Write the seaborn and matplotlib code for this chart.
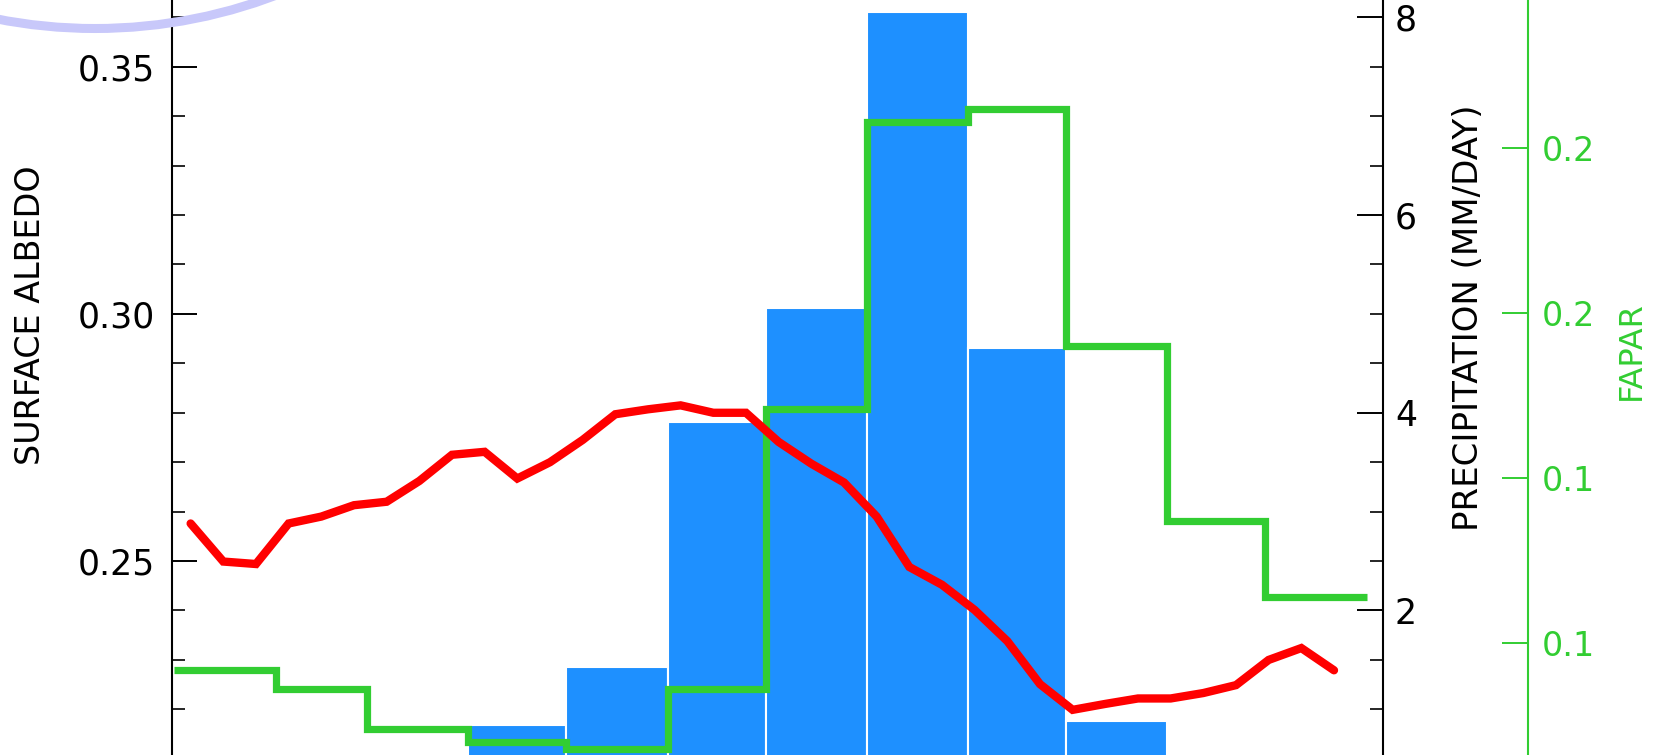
import numpy as np
import matplotlib
matplotlib.use("Agg")
import matplotlib.pyplot as plt
import seaborn as sns
from matplotlib.patches import Ellipse
from matplotlib.ticker import MultipleLocator, FixedLocator, FormatStrFormatter

# Month boundaries (day of year)
month_edges = [0, 31, 59, 90, 120, 151, 181, 212, 243, 273, 304, 334, 365]
# Monthly precipitation (mm/day)
precip_mm_day = [0.0, 0.0, 0.0, 0.84, 1.43, 3.91, 5.06, 8.05, 4.66, 0.88, 0.0, 0.0]
# Monthly FAPAR
fapar = [0.092, 0.086, 0.074, 0.070, 0.068, 0.086, 0.171, 0.258, 0.262, 0.190, 0.137, 0.114]
# Dekadal surface albedo
dekad_day = [5, 15, 25, 35, 45, 55, 65, 75, 85, 95, 105, 115, 125, 135, 145, 155, 165, 175,
             185, 195, 205, 215, 225, 235, 245, 255, 265, 275, 285, 295, 305, 315, 325, 335,
             345, 355]
albedo = [0.2576, 0.2499, 0.2494, 0.2576, 0.2590, 0.2613, 0.2620, 0.2662, 0.2715, 0.2721,
          0.2667, 0.2700, 0.2745, 0.2797, 0.2807, 0.2815, 0.2800, 0.2800, 0.2741, 0.2697,
          0.2659, 0.2590, 0.2488, 0.2452, 0.2401, 0.2338, 0.2251, 0.2199, 0.2211, 0.2222,
          0.2222, 0.2233, 0.2249, 0.2300, 0.2324, 0.2279]

BLUE = "#1E90FF"
GREEN = "#32CD32"
RED = "#FF0000"

sns.set_style("white")
plt.rcParams["font.family"] = ["DejaVu Sans"]

fig = plt.figure(figsize=(16.64, 7.55), dpi=100)
fig.patch.set_facecolor("white")

# precipitation axes (host), FAPAR axes, albedo axes on top
ax_p = fig.add_axes([0.10337, -0.07046, 0.72776, 1.17841])
ax_f = ax_p.twinx()
ax_a = ax_p.twinx()

month_mid = (np.array(month_edges[:-1]) + np.array(month_edges[1:])) / 2.0
sns.histplot(x=month_mid, weights=precip_mm_day, bins=month_edges, ax=ax_p,
             color=BLUE, edgecolor="white", linewidth=1.5, alpha=1, stat="count")

sns.lineplot(x=month_edges, y=fapar + [fapar[-1]], ax=ax_f, color=GREEN,
             linewidth=5.2, drawstyle="steps-post", estimator=None,
             solid_joinstyle="miter", solid_capstyle="butt")

sns.lineplot(x=dekad_day, y=albedo, ax=ax_a, color=RED, linewidth=6,
             estimator=None, solid_joinstyle="miter")

for ax in (ax_p, ax_f, ax_a):
    ax.set_xlim(-0.7, 370)
    ax.set_xlabel("")
    ax.set_ylabel("")
    ax.tick_params(axis="x", which="both", bottom=False, top=False,
                   labelbottom=False, labeltop=False)
    for side in ("top", "bottom", "left", "right"):
        ax.spines[side].set_visible(False)

# precipitation axis (right)
ax_p.set_ylim(0, 9)
ax_p.yaxis.set_ticks_position("right")
ax_p.yaxis.set_major_locator(FixedLocator([2, 4, 6, 8]))
ax_p.yaxis.set_major_formatter(FormatStrFormatter("%d"))
ax_p.yaxis.set_minor_locator(MultipleLocator(0.5))
ax_p.spines["right"].set_visible(True)
ax_p.spines["right"].set_linewidth(1.5)
ax_p.spines["right"].set_color("black")
ax_p.tick_params(axis="y", which="major", direction="in", length=18.7, width=1.4,
                 pad=8.6, labelsize=25, colors="black")
ax_p.tick_params(axis="y", which="minor", direction="in", length=9.4, width=1.4)

# FAPAR axis (outer right)
ax_f.set_ylim(0.05, 0.3196)
ax_f.yaxis.set_ticks_position("right")
ax_f.yaxis.set_major_locator(FixedLocator([0.10, 0.15, 0.20, 0.25]))
ax_f.yaxis.set_major_formatter(FormatStrFormatter("%.1f"))
ax_f.yaxis.set_minor_locator(FixedLocator([]))
ax_f.spines["right"].set_visible(True)
ax_f.spines["right"].set_position(("axes", 1.12))
ax_f.spines["right"].set_color(GREEN)
ax_f.spines["right"].set_linewidth(1.5)
ax_f.tick_params(axis="y", which="major", direction="in", length=18.5, width=1.4,
                 pad=9.6, labelsize=24, colors=GREEN)

# albedo axis (left)
ax_a.set_ylim(0.20, 0.38)
ax_a.yaxis.set_ticks_position("left")
ax_a.yaxis.set_major_locator(FixedLocator([0.25, 0.30, 0.35]))
ax_a.yaxis.set_major_formatter(FormatStrFormatter("%.2f"))
ax_a.yaxis.set_minor_locator(MultipleLocator(0.01))
ax_a.spines["left"].set_visible(True)
ax_a.spines["left"].set_linewidth(1.5)
ax_a.spines["left"].set_color("black")
ax_a.tick_params(axis="y", which="major", direction="in", length=18.0, width=1.4,
                 pad=12.2, labelsize=25, colors="black")
ax_a.tick_params(axis="y", which="minor", direction="in", length=9.6, width=1.4)

# axis titles
fig.text(31 / 1664, 1 - 315.5 / 755, "SURFACE ALBEDO", rotation=90,
         ha="center", va="center", fontsize=24, color="black")
fig.text(1469 / 1664, 1 - 317.5 / 755, "PRECIPITATION (MM/DAY)", rotation=90,
         ha="center", va="center", fontsize=24.5, color="black")
fig.text(1631 / 1664, 1 - 351 / 755, "FAPAR", rotation=90,
         ha="center", va="center", fontsize=23, color=GREEN)

# lavender highlight ring in the upper left corner
ring = Ellipse((0.95, 12.365), 10.2, 10.2, transform=fig.dpi_scale_trans,
               fill=False, edgecolor="#C8C8FA", linewidth=6.5, zorder=10)
fig.add_artist(ring)

fig.savefig("out.png", dpi=100, facecolor="white")
